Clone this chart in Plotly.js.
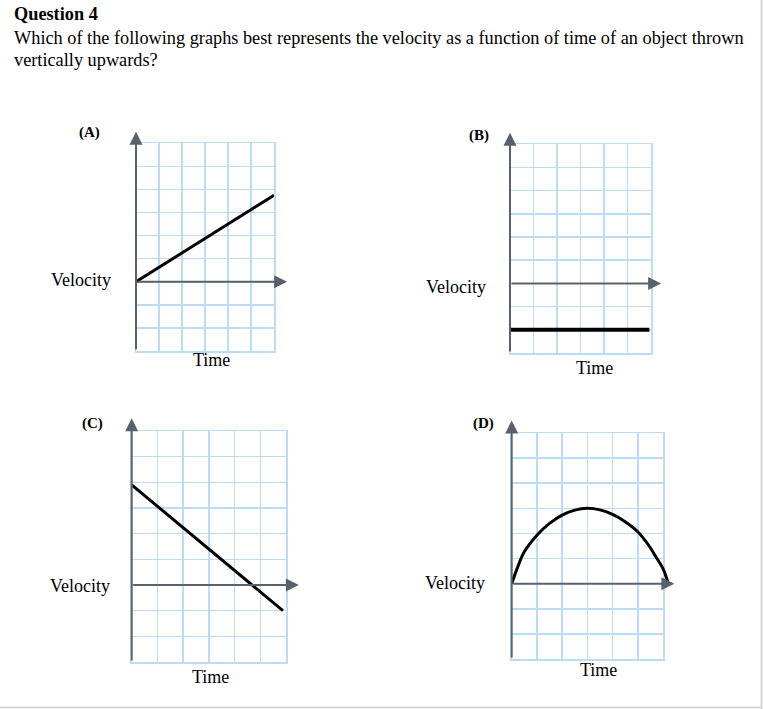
<!DOCTYPE html>
<html>
<head>
<meta charset="utf-8">
<script src="https://cdn.plot.ly/plotly-3.0.1.min.js"></script>
<style>
html,body{margin:0;padding:0;background:#fff;}
#chart{width:763px;height:709px;}
</style>
</head>
<body>
<div id="chart"></div>
<script>
// ---- Data ----
const questionHeading = 'Question 4';
const questionLine1 = 'Which of the following graphs best represents the velocity as a function of time of an object thrown';
const questionLine2 = 'vertically upwards?';
const panelLabels = ['(A)', '(B)', '(C)', '(D)'];
const yLabel = 'Velocity';
const xLabel = 'Time';

const timeA = [0, 6];
const velA = [0, 3.75];

const timeB = [0, 5.93];
const velB = [-2, -2];

const timeC = [0, 5.88];
const velC = [3.9, -1.0];

const timeD = [0, 0.24, 0.5, 1.0, 1.5, 2.0, 2.5, 3.0, 3.5, 4.0, 4.5, 5.0, 5.43, 5.76, 6.0, 6.2];
const velD  = [0, 0.67, 1.27, 1.93, 2.4, 2.73, 2.93, 3.0, 2.94, 2.76, 2.47, 2.07, 1.53, 1.0, 0.6, 0.04];

// ---- Layout helpers (pixel boxes of each grid) ----
const W = 763, H = 709;
const boxes = [
  {l:136,   r:274, t:143.3, b:351, tipY:6.5,  tipX:6.57},
  {l:510,   r:651, t:144.3, b:353, tipY:6.5,  tipX:6.43},
  {l:131.7, r:286, t:431,   b:662, tipY:6.5,  tipX:6.5},
  {l:511.7, r:663, t:433,   b:659, tipY:6.5,  tipX:6.45}
];
const panelLabelPos = [[89.7,132.5],[479,135.8],[92.8,423.7],[483.3,423]];
const velLabelPos = [[81,280.5],[456,287],[79.7,586],[455.3,583]];
const timeLabelPos = [[211,360],[594,368],[210,676.5],[598.3,670]];

const serif = '"Liberation Serif", "Times New Roman", serif';
const gridColor = 'rgb(188,220,244)';
const axisColor = 'rgb(88,98,108)';
const px = x => x / W;
const py = y => 1 - y / H;

const series = [[timeA, velA, 3], [timeB, velB, 4], [timeC, velC, 3], [timeD, velD, 3]];
const data = [];
const layout = {
  width: W, height: H,
  margin: {l:0, r:0, t:0, b:0},
  paper_bgcolor: '#fff', plot_bgcolor: 'rgba(0,0,0,0)',
  showlegend: false,
  annotations: [],
  shapes: [
    {type:'line', xref:'paper', yref:'paper', x0:0, x1:px(761.5), y0:py(707.5), y1:py(707.5), line:{color:'#d6d6d6', width:2}},
    {type:'line', xref:'paper', yref:'paper', x0:px(761.5), x1:px(761.5), y0:0, y1:1, line:{color:'#d6d6d6', width:2}}
  ]
};

boxes.forEach((b, i) => {
  const n = i === 0 ? '' : String(i + 1);
  const xa = 'xaxis' + n, ya = 'yaxis' + n;
  const xr = 'x' + n, yr = 'y' + n;
  layout[xa] = {
    domain: [px(b.l), px(b.r)], range: [0, 6], anchor: yr,
    dtick: 1, tick0: 0, showgrid: true, gridcolor: gridColor, gridwidth: 1.5,
    zeroline: false, showticklabels: false, ticks: '',
    showline: true, mirror: true, linecolor: gridColor, linewidth: 1.5, fixedrange: true
  };
  layout[ya] = {
    domain: [py(b.b), py(b.t)], range: [-3, 6], anchor: xr,
    dtick: 1, tick0: 0, showgrid: true, gridcolor: gridColor, gridwidth: 1.5,
    zeroline: false, showticklabels: false, ticks: '',
    showline: true, mirror: true, linecolor: gridColor, linewidth: 1.5, fixedrange: true
  };
  // axis arrows
  layout.annotations.push({xref: xr, yref: yr, axref: xr, ayref: yr, x: 0, y: b.tipY, ax: 0, ay: -3,
    text: '', showarrow: true, arrowhead: 2, arrowsize: 1.3, arrowwidth: 2, arrowcolor: axisColor, standoff: 0, startstandoff: 0});
  layout.annotations.push({xref: xr, yref: yr, axref: xr, ayref: yr, x: b.tipX, y: 0, ax: 0, ay: 0,
    text: '', showarrow: true, arrowhead: 2, arrowsize: 1.3, arrowwidth: 2, arrowcolor: axisColor, standoff: 0, startstandoff: 0});
  // labels
  layout.annotations.push({xref:'paper', yref:'paper', x: px(panelLabelPos[i][0]), y: py(panelLabelPos[i][1]),
    xanchor:'center', yanchor:'middle', showarrow:false, text: '<b>' + panelLabels[i] + '</b>',
    font:{family: serif, size: 15, color:'#000'}});
  layout.annotations.push({xref:'paper', yref:'paper', x: px(velLabelPos[i][0]), y: py(velLabelPos[i][1]),
    xanchor:'center', yanchor:'middle', showarrow:false, text: yLabel,
    font:{family: serif, size: 18, color:'#000'}});
  layout.annotations.push({xref:'paper', yref:'paper', x: px(timeLabelPos[i][0]), y: py(timeLabelPos[i][1]),
    xanchor:'center', yanchor:'middle', showarrow:false, text: xLabel,
    font:{family: serif, size: 18, color:'#000'}});
});

// Traces for A, B, C on their own axes
for (let i = 0; i < 3; i++) {
  const n = i === 0 ? '' : String(i + 1);
  const s = series[i];
  data.push({x: s[0], y: s[1], xaxis: 'x' + n, yaxis: 'y' + n, type: 'scatter', mode: 'lines',
    line: {color: '#000', width: s[2]}, hoverinfo: 'skip'});
}
// Panel D curve on an invisible overlay subplot with the same scale but a wider x range (no clipping at t=6)
const bD = boxes[3];
const unitD = (bD.r - bD.l) / 6;
layout.xaxis5 = {domain: [px(bD.l), px(bD.l + 6.6 * unitD)], range: [0, 6.6], anchor: 'y5', visible: false, fixedrange: true};
layout.yaxis5 = {domain: [py(bD.b), py(bD.t)], range: [-3, 6], anchor: 'x5', visible: false, fixedrange: true};
data.push({x: timeD, y: velD, xaxis: 'x5', yaxis: 'y5', type: 'scatter', mode: 'lines',
  line: {color: '#000', width: 3, shape: 'spline', smoothing: 1}, hoverinfo: 'skip'});

layout.annotations.push({xref:'paper', yref:'paper', x: px(12), y: py(14), xanchor:'left', yanchor:'middle',
  showarrow:false, text:'<b>' + questionHeading + '</b>', font:{family: serif, size: 18.3, color:'#000'}});
layout.annotations.push({xref:'paper', yref:'paper', x: px(12), y: py(38), xanchor:'left', yanchor:'middle',
  showarrow:false, text: questionLine1, font:{family: serif, size: 18.3, color:'#000'}});
layout.annotations.push({xref:'paper', yref:'paper', x: px(12), y: py(60), xanchor:'left', yanchor:'middle',
  showarrow:false, text: questionLine2, font:{family: serif, size: 18.3, color:'#000'}});

Plotly.newPlot('chart', data, layout, {displayModeBar: false, staticPlot: true});
</script>
</body>
</html>
